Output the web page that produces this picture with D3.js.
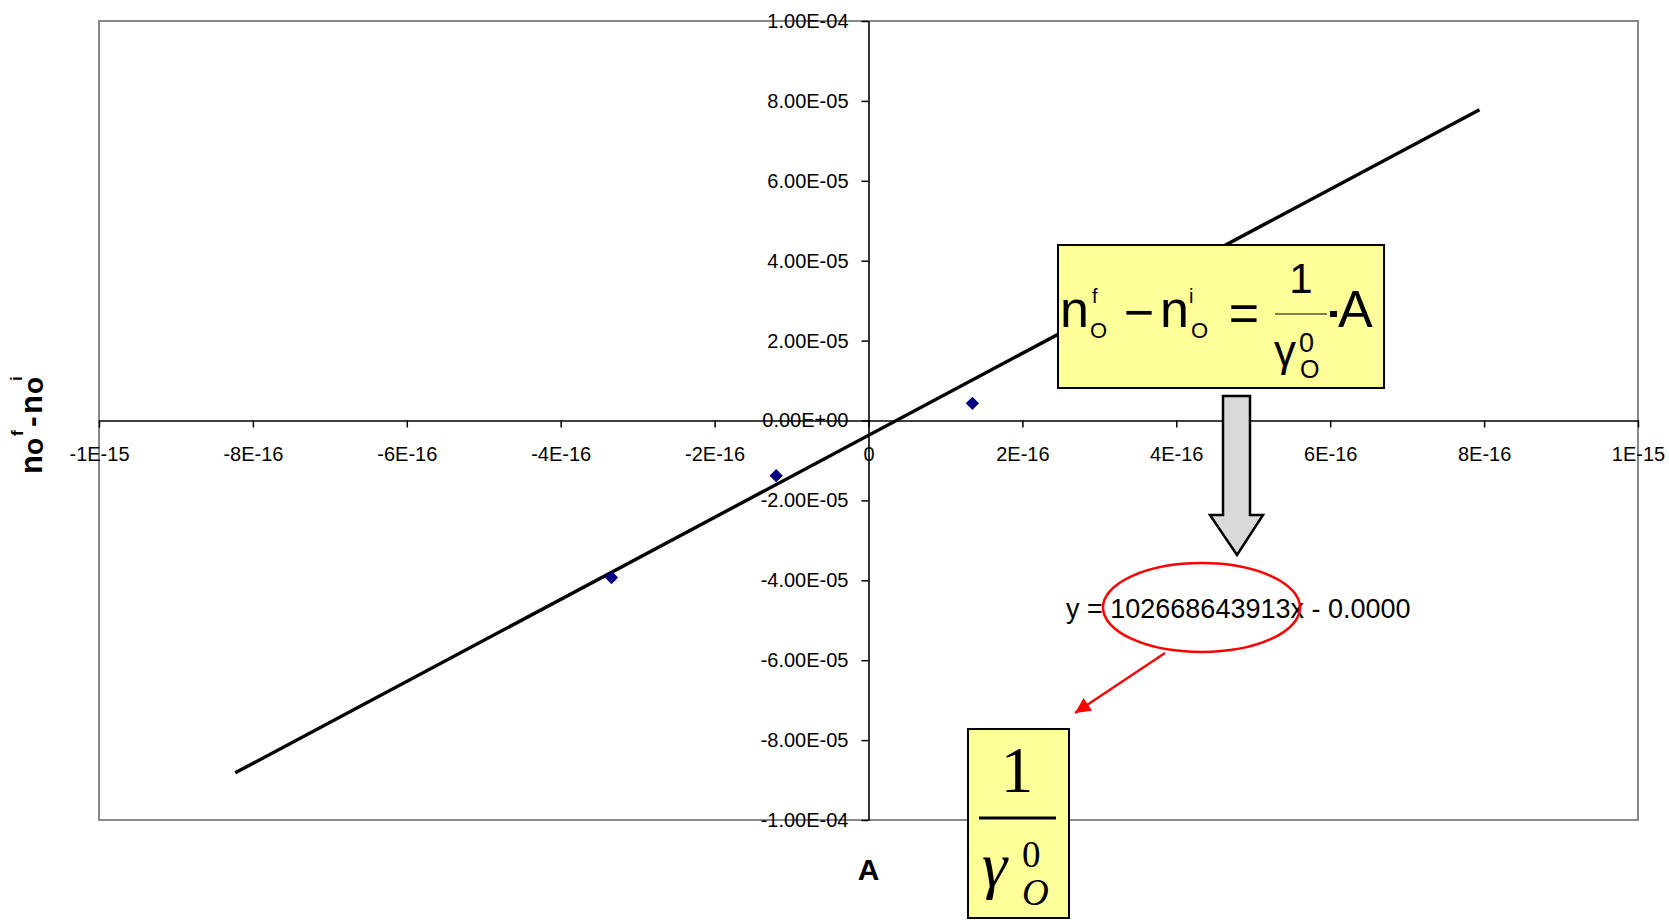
<!DOCTYPE html>
<html>
<head>
<meta charset="utf-8">
<script src="https://cdn.jsdelivr.net/npm/d3@7"></script>
<style>
  body { margin: 0; background: #fff; }
  svg { display: block; font-family: "Liberation Sans", Arial, sans-serif; }
</style>
</head>
<body>
<div id="chart"></div>
<script>
// measured points (A, n_O^f - n_O^i)
const pointA = [-3.34e-16, -1.20e-16, 1.35e-16];
const pointN = [-3.93e-5, -1.38e-5, 4.3e-6];

// trend line end points as drawn
const trendA = [-8.23e-16, 7.94e-16];
const trendN = [-8.82e-5, 7.78e-5];

const xTickValues = [-1e-15, -8e-16, -6e-16, -4e-16, -2e-16, 0, 2e-16, 4e-16, 6e-16, 8e-16, 1e-15];
const xTickLabels = ["-1E-15", "-8E-16", "-6E-16", "-4E-16", "-2E-16", "0", "2E-16", "4E-16", "6E-16", "8E-16", "1E-15"];
const yTickValues = [1e-4, 8e-5, 6e-5, 4e-5, 2e-5, 0, -2e-5, -4e-5, -6e-5, -8e-5, -1e-4];
const yTickLabels = ["1.00E-04", "8.00E-05", "6.00E-05", "4.00E-05", "2.00E-05", "0.00E+00",
                     "-2.00E-05", "-4.00E-05", "-6.00E-05", "-8.00E-05", "-1.00E-04"];

const trendEquation = "y = 102668643913x - 0.0000";

class TrendChart {

    constructor(parentElement) {
        this.parentElement = parentElement;
    }

    initVis() {
        let vis = this;

        vis.width = 1669;
        vis.height = 920;
        vis.plot = { left: 99, right: 1638, top: 21, bottom: 820 };

        vis.svg = d3.select("#" + vis.parentElement).append("svg")
            .attr("width", vis.width)
            .attr("height", vis.height);

        vis.x = d3.scaleLinear()
            .domain([-1e-15, 1e-15])
            .range([vis.plot.left, vis.plot.right]);

        vis.y = d3.scaleLinear()
            .domain([-1e-4, 1e-4])
            .range([vis.plot.bottom, vis.plot.top]);

        // plot frame
        vis.svg.append("rect")
            .attr("x", vis.plot.left)
            .attr("y", vis.plot.top)
            .attr("width", vis.plot.right - vis.plot.left)
            .attr("height", vis.plot.bottom - vis.plot.top)
            .attr("fill", "none")
            .attr("stroke", "#888888")
            .attr("stroke-width", 2);

        vis.drawAxes();
        vis.drawData();
        vis.drawTitles();
        vis.drawAnnotations();
    }

    drawAxes() {
        let vis = this;

        let xAxis = d3.axisBottom(vis.x)
            .tickValues(xTickValues)
            .tickFormat((d, i) => xTickLabels[i])
            .tickSizeInner(7)
            .tickSizeOuter(0)
            .tickPadding(19);

        let xg = vis.svg.append("g")
            .attr("transform", `translate(0,${vis.y(0)})`)
            .call(xAxis);

        let yAxis = d3.axisLeft(vis.y)
            .tickValues(yTickValues)
            .tickFormat((d, i) => yTickLabels[i])
            .tickSizeInner(7)
            .tickSizeOuter(0)
            .tickPadding(13);

        let yg = vis.svg.append("g")
            .attr("transform", `translate(${vis.x(0)},0)`)
            .call(yAxis);

        [xg, yg].forEach(g => {
            g.select(".domain").attr("stroke", "#000").attr("stroke-width", 1.6);
            g.selectAll(".tick line").attr("stroke", "#000").attr("stroke-width", 1.5);
            g.selectAll(".tick text")
                .attr("fill", "#000")
                .style("font-family", "'Liberation Sans', Arial, sans-serif")
                .style("font-size", "20px");
        });
    }

    drawData() {
        let vis = this;

        vis.svg.append("line")
            .attr("x1", vis.x(trendA[0]))
            .attr("y1", vis.y(trendN[0]))
            .attr("x2", vis.x(trendA[1]))
            .attr("y2", vis.y(trendN[1]))
            .attr("stroke", "#000")
            .attr("stroke-width", 3.4);

        let diamond = d3.symbol().type(d3.symbolSquare).size(88);

        vis.svg.selectAll(".pt")
            .data(pointA)
            .enter()
            .append("path")
            .attr("class", "pt")
            .attr("d", diamond)
            .attr("transform", (d, i) => `translate(${vis.x(d)},${vis.y(pointN[i])}) rotate(45)`)
            .attr("fill", "#000080");
    }

    drawTitles() {
        let vis = this;

        vis.svg.append("text")
            .attr("x", vis.x(0))
            .attr("y", 880)
            .attr("text-anchor", "middle")
            .style("font-size", "30px")
            .style("font-weight", "bold")
            .text("A");

        // rotated y title n_O^f - n_O^i
        let yt = vis.svg.append("text")
            .attr("transform", "translate(42,474) rotate(-90)")
            .style("font-weight", "bold");
        yt.append("tspan").attr("x", 0).attr("y", 0).style("font-size", "31px").text("n");
        yt.append("tspan").attr("x", 19).attr("y", 1).style("font-size", "28px").text("o");
        yt.append("tspan").attr("x", 38).attr("y", -19).style("font-size", "17px").text("f");
        yt.append("tspan").attr("x", 47).attr("y", 0).style("font-size", "32px").text("-");
        yt.append("tspan").attr("x", 60).attr("y", 0).style("font-size", "31px").text("n");
        yt.append("tspan").attr("x", 80).attr("y", 1).style("font-size", "28px").text("o");
        yt.append("tspan").attr("x", 93).attr("y", -20).style("font-size", "17px").text("i");
    }

    drawAnnotations() {
        let vis = this;

        // equation box
        let box = vis.svg.append("g");
        box.append("rect")
            .attr("x", 1058).attr("y", 245)
            .attr("width", 326).attr("height", 143)
            .attr("fill", "#ffff99")
            .attr("stroke", "#000")
            .attr("stroke-width", 2);

        let t = (x, y, size, str, anchor) => box.append("text")
            .attr("x", x).attr("y", y)
            .attr("text-anchor", anchor || "start")
            .style("font-size", size + "px")
            .text(str);

        t(1060, 327, 52, "n");
        t(1092, 303, 20, "f");
        t(1090, 338, 22, "O");
        t(1139, 330, 52, "\u2212", "middle");
        t(1160, 327, 52, "n");
        t(1189, 303, 20, "i");
        t(1191, 338, 22, "O");
        t(1244, 331, 52, "=", "middle");
        t(1301, 293, 42, "1", "middle");
        box.append("line")
            .attr("x1", 1275).attr("x2", 1327)
            .attr("y1", 314).attr("y2", 314)
            .attr("stroke", "#000").attr("stroke-width", 1.2);
        box.append("rect")
            .attr("x", 1330).attr("y", 311)
            .attr("width", 7).attr("height", 6)
            .attr("fill", "#000");
        t(1338, 327, 52, "A");
        t(1274, 366, 44, "\u03b3");
        t(1299, 352, 27, "0");
        t(1300, 378, 25, "O");

        // grey block arrow
        vis.svg.append("polygon")
            .attr("points", [[1223, 396], [1250, 396], [1250, 515], [1263, 515],
                             [1237, 555], [1210, 515], [1223, 515]].join(" "))
            .attr("fill", "#d9d9d9")
            .attr("stroke", "#000")
            .attr("stroke-width", 2.5)
            .attr("stroke-linejoin", "miter");

        // regression equation
        vis.svg.append("text")
            .attr("x", 1066)
            .attr("y", 618)
            .style("font-size", "27px")
            .text(trendEquation);

        vis.svg.append("ellipse")
            .attr("cx", 1201.5).attr("cy", 607.5)
            .attr("rx", 98.5).attr("ry", 44.5)
            .attr("fill", "none")
            .attr("stroke", "#ff0000")
            .attr("stroke-width", 2.5);

        // red arrow
        vis.svg.append("defs").append("marker")
            .attr("id", "redhead")
            .attr("viewBox", "0 0 10 10")
            .attr("refX", 10).attr("refY", 5)
            .attr("markerWidth", 8).attr("markerHeight", 7)
            .attr("markerUnits", "strokeWidth")
            .attr("orient", "auto")
            .append("path")
            .attr("d", "M0,0 L10,5 L0,10 z")
            .attr("fill", "#ff0000");

        vis.svg.append("line")
            .attr("x1", 1165).attr("y1", 653)
            .attr("x2", 1075).attr("y2", 713)
            .attr("stroke", "#ff0000")
            .attr("stroke-width", 2.2)
            .attr("marker-end", "url(#redhead)");

        // 1 / gamma box
        let box2 = vis.svg.append("g").style("font-family", "'Liberation Serif', 'Times New Roman', serif");
        box2.append("rect")
            .attr("x", 968).attr("y", 729)
            .attr("width", 101).attr("height", 189)
            .attr("fill", "#ffff99")
            .attr("stroke", "#000")
            .attr("stroke-width", 2);
        box2.append("text")
            .attr("x", 1017).attr("y", 792)
            .attr("text-anchor", "middle")
            .style("font-size", "65px")
            .text("1");
        box2.append("line")
            .attr("x1", 979).attr("x2", 1056)
            .attr("y1", 818).attr("y2", 818)
            .attr("stroke", "#000").attr("stroke-width", 3);
        box2.append("text")
            .attr("x", 982).attr("y", 886)
            .style("font-size", "64px")
            .style("font-style", "italic")
            .text("\u03b3");
        box2.append("text")
            .attr("x", 1022).attr("y", 867)
            .style("font-size", "37px")
            .text("0");
        box2.append("text")
            .attr("x", 1022).attr("y", 905)
            .style("font-size", "37px")
            .style("font-style", "italic")
            .text("O");
    }
}

let chart = new TrendChart("chart");
chart.initVis();
</script>
</body>
</html>
